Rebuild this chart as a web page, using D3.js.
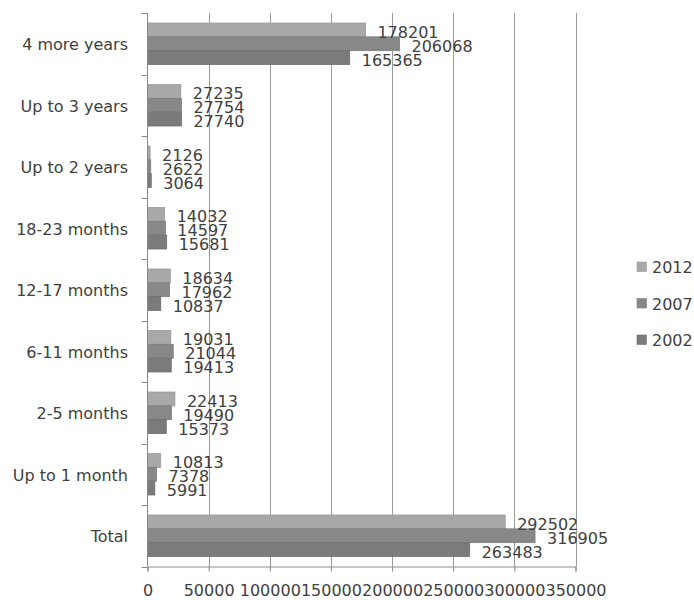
<!DOCTYPE html>
<html>
<head>
<meta charset="utf-8">
<script src="https://cdn.jsdelivr.net/npm/d3@7/dist/d3.min.js"></script>
<style>
  html, body { margin: 0; padding: 0; background: #fff; }
  svg { display: block; }
  text { font-family: "DejaVu Sans", Verdana, sans-serif; fill: #404040; }
</style>
</head>
<body>
<svg id="chart" width="694" height="600"></svg>
<script>
const categories = ["4 more years", "Up to 3 years", "Up to 2 years", "18-23 months", "12-17 months", "6-11 months", "2-5 months", "Up to 1 month", "Total"];
const seriesNames = ["2012", "2007", "2002"];
const v2012 = [178201, 27235, 2126, 14032, 18634, 19031, 22413, 10813, 292502];
const v2007 = [206068, 27754, 2622, 14597, 17962, 21044, 19490, 7378, 316905];
const v2002 = [165365, 27740, 3064, 15681, 10837, 19413, 15373, 5991, 263483];
const tickValues = [0, 50000, 100000, 150000, 200000, 250000, 300000, 350000];

const series = [
  { name: seriesNames[0], values: v2012, color: "#a8a8a8", stroke: "#9a9a9a" },
  { name: seriesNames[1], values: v2007, color: "#888888", stroke: "#7c7c7c" },
  { name: seriesNames[2], values: v2002, color: "#7b7b7b", stroke: "#6f6f6f" }
];

const svg = d3.select("#chart");
const mLeft = 147.5, mRight = 575.5, mTop = 13, mBottom = 566.5;

const x = d3.scaleLinear().domain([0, 350000]).range([mLeft, mRight]);
const y = d3.scaleBand().domain(categories).range([mTop, mBottom]).padding(0);
const inner = d3.scaleBand().domain(seriesNames).range([10, y.bandwidth() - 10]).padding(0);

// gridlines
svg.append("g").selectAll("line").data(tickValues.slice(1)).join("line")
  .attr("x1", d => Math.round(x(d)) + 0.5).attr("x2", d => Math.round(x(d)) + 0.5)
  .attr("y1", mTop).attr("y2", mBottom)
  .attr("stroke", "#9a9a9a").attr("stroke-width", 1);

// bars
const groups = svg.append("g").selectAll("g").data(categories).join("g")
  .attr("transform", d => `translate(0,${y(d)})`);

series.forEach(s => {
  groups.append("rect")
    .attr("x", x(0))
    .attr("y", inner(s.name))
    .attr("width", (d, i) => x(s.values[i]) - x(0))
    .attr("height", inner.bandwidth())
    .attr("fill", s.color)
    .attr("stroke", s.stroke)
    .attr("stroke-width", 0.8);
});

// value labels
series.forEach(s => {
  groups.append("text")
    .attr("x", (d, i) => x(s.values[i]) + 12)
    .attr("y", inner(s.name) + inner.bandwidth() / 2 + 2.5)
    .attr("dominant-baseline", "central")
    .attr("font-size", 16)
    .text((d, i) => s.values[i]);
});

// left axis
const yAxisG = svg.append("g").attr("transform", `translate(${mLeft},0)`);
yAxisG.append("line").attr("x1", 0).attr("x2", 0).attr("y1", mTop).attr("y2", mBottom)
  .attr("stroke", "#8a8a8a");
const yTicks = categories.map(c => y(c)).concat([y(categories[categories.length - 1]) + y.bandwidth()]);
yAxisG.selectAll("line.tk").data(yTicks).join("line").attr("class", "tk")
  .attr("x1", -6).attr("x2", 0).attr("y1", d => Math.round(d) + 0.5).attr("y2", d => Math.round(d) + 0.5)
  .attr("stroke", "#8a8a8a");
svg.append("g").selectAll("text").data(categories).join("text")
  .attr("x", 128)
  .attr("y", d => y(d) + y.bandwidth() / 2 + 1)
  .attr("text-anchor", "end")
  .attr("dominant-baseline", "central")
  .attr("font-size", 16)
  .text(d => d);

// bottom axis
const xAxis = d3.axisBottom(x).tickValues(tickValues).tickSize(5).tickPadding(13).tickFormat(d3.format("d"));
const gx = svg.append("g").attr("transform", `translate(0,${mBottom})`).call(xAxis);
gx.select(".domain").attr("stroke", "#8a8a8a");
gx.selectAll(".tick line").attr("stroke", "#8a8a8a");
gx.selectAll(".tick text").attr("font-size", 16).attr("fill", "#404040")
  .attr("font-family", "DejaVu Sans, Verdana, sans-serif");

// legend
const legend = svg.append("g").selectAll("g").data(series).join("g")
  .attr("transform", (d, i) => `translate(637,${267 + i * 36.5})`);
legend.append("rect").attr("x", 0).attr("y", -5).attr("width", 9.5).attr("height", 9.5)
  .attr("fill", d => d.color).attr("stroke", d => d.stroke).attr("stroke-width", 0.6);
legend.append("text").attr("x", 15).attr("y", 0.5).attr("dominant-baseline", "central")
  .attr("font-size", 16).text(d => d.name);
</script>
</body>
</html>
